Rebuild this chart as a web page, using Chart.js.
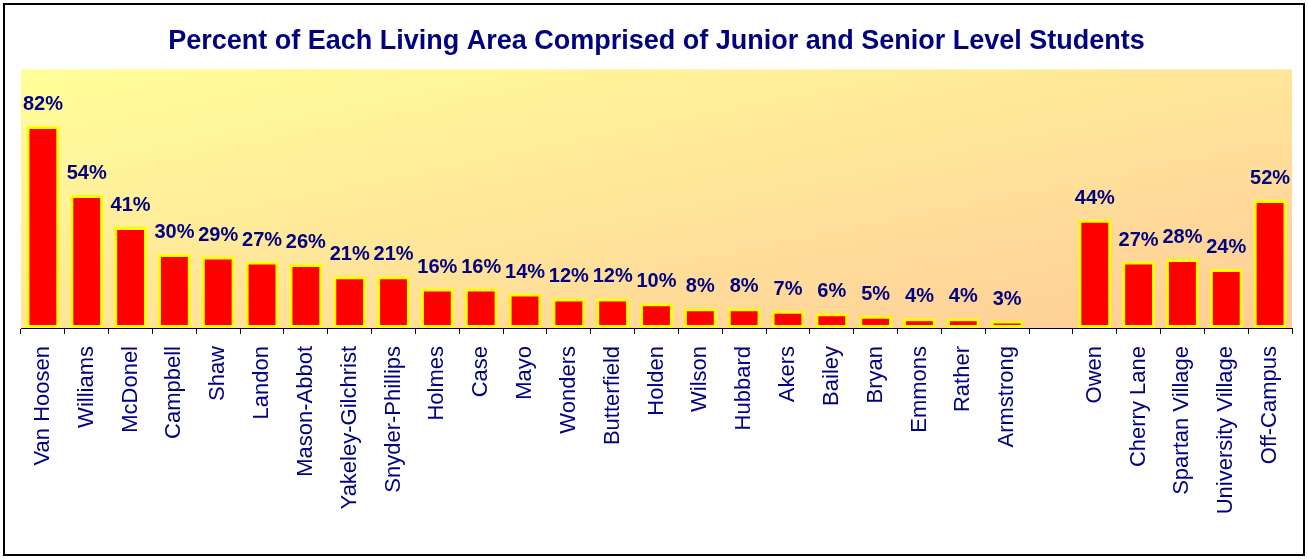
<!DOCTYPE html>
<html>
<head>
<meta charset="utf-8">
<script src="https://cdn.jsdelivr.net/npm/chart.js@4"></script>
<style>
  body { margin: 0; background: #fff; }
  #box { position: absolute; left: 3px; top: 3px; width: 1298px; height: 549px; border: 2px solid #000; }
</style>
</head>
<body>
<div id="box"><canvas id="areaCanvas" width="1298" height="549"></canvas></div>
<script>
const areas = ['Van Hoosen', 'Williams', 'McDonel', 'Campbell', 'Shaw', 'Landon', 'Mason-Abbot',
    'Yakeley-Gilchrist', 'Snyder-Phillips', 'Holmes', 'Case', 'Mayo', 'Wonders', 'Butterfield',
    'Holden', 'Wilson', 'Hubbard', 'Akers', 'Bailey', 'Bryan', 'Emmons', 'Rather', 'Armstrong',
    '', 'Owen', 'Cherry Lane', 'Spartan Village', 'University Village', 'Off-Campus'];
const juniorSeniorPct = [82, 54, 41, 30, 29, 27, 26, 21, 21, 16, 16, 14, 12, 12, 10, 8, 8, 7, 6, 5, 4, 4, 3,
    null, 44, 27, 28, 24, 52];

const navy = '#000080';
const fontFamily = 'Arial, "Liberation Sans", sans-serif';

const plotBackground = {
    id: 'plotBackground',
    beforeDatasetsDraw(chart) {
        const { ctx, chartArea: a } = chart;
        const w = a.right - a.left, h = a.bottom - a.top;
        const l2 = w * w + h * h;
        const g = ctx.createLinearGradient(a.left, a.top, a.left + 2 * w * h * h / l2, a.top + 2 * w * w * h / l2);
        g.addColorStop(0, '#FFFF99');
        g.addColorStop(1, '#FFCC99');
        ctx.save();
        ctx.fillStyle = g;
        ctx.fillRect(a.left, a.top, w, h);
        ctx.restore();
    }
};

const valueLabels = {
    id: 'valueLabels',
    afterDatasetsDraw(chart) {
        const { ctx } = chart;
        const meta = chart.getDatasetMeta(0);
        ctx.save();
        ctx.font = 'bold 20px ' + fontFamily;
        ctx.fillStyle = navy;
        ctx.textAlign = 'center';
        ctx.textBaseline = 'alphabetic';
        meta.data.forEach((bar, i) => {
            const v = juniorSeniorPct[i];
            if (v == null) return;
            ctx.fillText(Math.round(v) + '%', bar.x, bar.y - 16);
        });
        ctx.restore();
    }
};

const ctxArea = document.getElementById('areaCanvas').getContext('2d');
const areaChart = new Chart(ctxArea, {
    type: 'bar',
    data: {
        labels: areas,
        datasets: [{
            label: 'Junior and Senior Level',
            data: juniorSeniorPct,
            backgroundColor: '#FF0000',
            borderColor: '#FFFF00',
            borderWidth: 3,
            borderSkipped: false,
            barPercentage: 0.75,
            categoryPercentage: 1
        }]
    },
    options: {
        responsive: false,
        animation: false,
        layout: { padding: { left: 16, right: 11, top: 0, bottom: 0 } },
        plugins: {
            legend: { display: false },
            tooltip: { enabled: false },
            title: {
                display: true,
                text: 'Percent of Each Living Area Comprised of Junior and Senior Level Students',
                color: navy,
                font: { family: fontFamily, size: 27, weight: 'bold' },
                padding: { top: 20, bottom: 12 }
            }
        },
        scales: {
            y: {
                display: false,
                min: 0,
                max: 105
            },
            x: {
                offset: true,
                afterFit(scale) {
                    scale.height = 226;
                    scale.paddingLeft = 0;
                    scale.paddingRight = 0;
                },
                border: { display: true, color: '#000', width: 1 },
                grid: { display: true, offset: true, drawOnChartArea: false, drawTicks: true, tickLength: 6, color: '#000' },
                ticks: {
                    autoSkip: false,
                    minRotation: 90,
                    maxRotation: 90,
                    padding: 12,
                    color: navy,
                    font: { family: fontFamily, size: 22 }
                }
            }
        }
    },
    plugins: [plotBackground, valueLabels]
});
</script>
</body>
</html>
